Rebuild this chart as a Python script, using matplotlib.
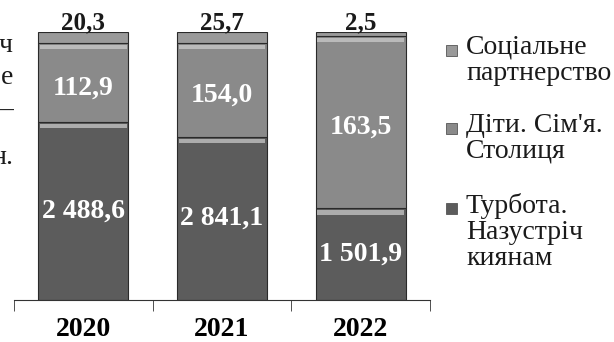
import numpy as np
import matplotlib.pyplot as plt
from matplotlib.patches import Rectangle

plt.rcParams['font.family'] = ['Liberation Serif', 'DejaVu Serif']

years = ['2020', '2021', '2022']

# printed values (mln UAH)
turbota = ['2 488,6', '2 841,1', '1 501,9']
dity = ['112,9', '154,0', '163,5']
partner = ['20,3', '25,7', '2,5']

# bar segment heights as drawn in the picture (share of bar height)
h_turbota = [0.664, 0.608, 0.343]
h_dity = [0.295, 0.351, 0.642]
h_partner = [0.041, 0.041, 0.015]

series_names = ['Соціальне\nпартнерство', 'Діти. Сім\'я.\nСтолиця', 'Турбота.\nНазустріч\nкиянам']
colors = ['#9a9a9a', '#8a8a8a', '#5c5c5c']

fig = plt.figure(figsize=(6.14, 3.42), dpi=100)
ax = fig.add_axes([14 / 614, 42 / 342, 416 / 614, 268 / 342])

x = np.arange(len(years))
w = 0.65
ax.bar(x, h_turbota, w, color=colors[2], edgecolor='#2a2a2a', linewidth=0.8)
ax.bar(x, h_dity, w, bottom=h_turbota, color=colors[1], edgecolor='#2a2a2a', linewidth=0.8)
bottom3 = np.array(h_turbota) + np.array(h_dity)
ax.bar(x, h_partner, w, bottom=bottom3, color=colors[0], edgecolor='#2a2a2a', linewidth=0.8)

# light bevel strip at top of each segment
for bot, hh in [(np.zeros(3), h_turbota), (np.array(h_turbota), h_dity)]:
    for i in range(3):
        ax.bar(x[i], 0.018, w * 0.96, bottom=bot[i] + hh[i] - 0.024,
               color='#cfcfcf', alpha=0.7, linewidth=0)

for i in range(3):
    ax.text(x[i], h_turbota[i] / 2, turbota[i], ha='center', va='center',
            color='white', fontsize=20, fontweight='bold')
    ax.text(x[i], h_turbota[i] + h_dity[i] / 2 - 0.02, dity[i], ha='center', va='center',
            color='white', fontsize=20, fontweight='bold')
    ax.text(x[i], 1.035, partner[i], ha='center', va='center',
            color='#1a1a1a', fontsize=18, fontweight='bold')

ax.set_xlim(-0.5, 2.5)
ax.set_ylim(0, 1)
ax.set_yticks([])
for s in ['top', 'left', 'right']:
    ax.spines[s].set_visible(False)
ax.spines['bottom'].set_color('#333333')
ax.set_xticks(x)
ax.set_xticklabels(years, fontsize=20, fontweight='bold')
ax.tick_params(axis='x', which='major', length=0, pad=12)
ax.set_xticks([-0.5, 0.5, 1.5, 2.5], minor=True)
ax.tick_params(axis='x', which='minor', length=8, direction='out', color='#333333')

# legend drawn by hand
leg_y = [50, 128, 208]
for name, col, y0 in zip(series_names, colors, leg_y):
    yf = 1 - y0 / 342
    fig.patches.append(Rectangle((446 / 614, yf - 6 / 342), 11 / 614, 11 / 342,
                                 transform=fig.transFigure, facecolor=col,
                                 edgecolor='#555555', linewidth=0.6))
    fig.text(466 / 614, yf + 15 / 342, name, ha='left', va='top', fontsize=20,
             linespacing=1.05, color='#1a1a1a')

# cropped body text at the left edge of the scan
for ch, y0 in [('ч', 45), ('е', 77), ('—', 110), ('н.', 158)]:
    fig.text(13 / 614, 1 - y0 / 342, ch, ha='right', va='center', fontsize=20, color='#1a1a1a')

fig.savefig('out.png', dpi=100)
